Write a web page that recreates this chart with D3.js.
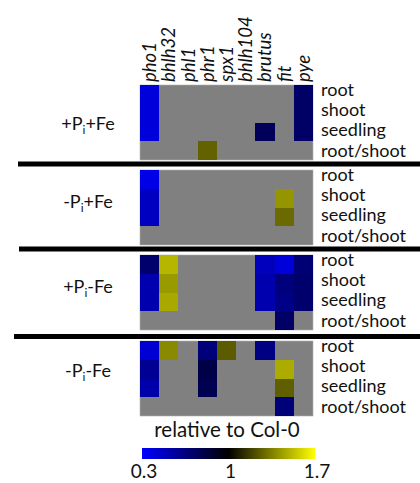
<!DOCTYPE html>
<html>
<head>
<meta charset="utf-8">
<script src="https://cdn.jsdelivr.net/npm/d3@7"></script>
<style>
  html, body { margin: 0; padding: 0; background: #fff; }
  svg { display: block; font-family: Lato, "Open Sans", sans-serif; }
</style>
</head>
<body>
<svg id="chart" width="420" height="483"></svg>
<script>
// Genes (columns) and tissues (rows)
const genes = ["pho1", "bhlh32", "phl1", "phr1", "spx1", "bhlh104", "brutus", "fit", "pye"];
const tissues = ["root", "shoot", "seedling", "root/shoot"];

// Condition labels: [sign before P, sign before Fe]
const conditions = [["+", "+"], ["-", "+"], ["+", "-"], ["-", "-"]];

// Expression relative to Col-0; null = no significant change (grey)
const n = null;
const plusPiPlusFe = [
  [0.40, n, n, n, n, n, n, n, 0.72],
  [0.40, n, n, n, n, n, n, n, 0.72],
  [0.40, n, n, n, n, n, 0.75, n, 0.72],
  [n, n, n, 1.27, n, n, n, n, n]
];
const minusPiPlusFe = [
  [0.37, n, n, n, n, n, n, n, n],
  [0.47, n, n, n, n, n, n, 1.41, n],
  [0.47, n, n, n, n, n, n, 1.29, n],
  [n, n, n, n, n, n, n, n, n]
];
const plusPiMinusFe = [
  [0.70, 1.50, n, n, n, n, 0.48, 0.40, 0.68],
  [0.52, 1.42, n, n, n, n, 0.52, 0.66, 0.70],
  [0.52, 1.46, n, n, n, n, 0.52, 0.63, 0.70],
  [n, n, n, n, n, n, n, 0.72, n]
];
const minusPiMinusFe = [
  [0.42, 1.38, n, 0.67, 1.25, n, 0.64, n, n],
  [0.60, n, n, 0.80, n, n, n, 1.47, n],
  [0.53, n, n, 0.78, n, n, n, 1.26, n],
  [n, n, n, n, n, n, n, 0.67, n]
];
const panels = [plusPiPlusFe, minusPiPlusFe, plusPiMinusFe, minusPiMinusFe];

// Colour bar domain and ticks
const colorDomain = [0.3, 1, 1.7];
const colorTicks = [0.3, 1, 1.7];

const svg = d3.select("#chart");

const mapLeft = 140, mapRight = 313;
const panelTops = [85, 170, 255, 341];
const panelH = 75;

const x = d3.scaleBand().domain(genes).range([mapLeft, mapRight]).padding(0);
const y = d3.scaleBand().domain(tissues).range([0, panelH]).padding(0);
const color = d3.scaleLinear().domain(colorDomain).range(["#0000ff", "#000000", "#ffff00"]);
const grey = "#808080";

// Gene names along the top, rotated
svg.append("g").selectAll("text")
  .data(genes)
  .join("text")
  .attr("transform", d => `translate(${x(d) + x.bandwidth() / 2 + 6.5},82) rotate(-90)`)
  .attr("font-size", 18.5)
  .attr("font-style", "italic")
  .attr("fill", "#111")
  .text(d => d);

panels.forEach((matrix, p) => {
  const g = svg.append("g").attr("transform", `translate(0,${panelTops[p]})`);
  const cells = [];
  matrix.forEach((row, r) => row.forEach((v, c) => {
    if (v != null) cells.push({ gene: genes[c], tissue: tissues[r], v });
  }));

  // Grey background = not significantly changed
  g.append("rect")
    .attr("x", mapLeft).attr("y", 0)
    .attr("width", mapRight - mapLeft).attr("height", panelH)
    .attr("fill", grey).attr("stroke", "#b0b0b0").attr("stroke-width", 0.6);

  g.selectAll("rect.cell")
    .data(cells)
    .join("rect")
    .attr("class", "cell")
    .attr("shape-rendering", "crispEdges")
    .attr("x", d => x(d.gene))
    .attr("y", d => y(d.tissue))
    .attr("width", x.bandwidth())
    .attr("height", y.bandwidth())
    .attr("fill", d => color(d.v));

  // Tissue labels on the right
  g.selectAll("text.tissue")
    .data(tissues)
    .join("text")
    .attr("class", "tissue")
    .attr("x", 321)
    .attr("y", (d, i) => 11 + i * 20.2)
    .attr("font-size", 18)
    .attr("fill", "#111")
    .text(d => d);

  // Condition label, e.g. +Pi+Fe
  const c = conditions[p];
  const labelY = [130, 208, 293, 377][p];
  const t = g.append("text")
    .attr("x", 88).attr("y", labelY - panelTops[p])
    .attr("text-anchor", "middle")
    .attr("font-size", 18)
    .attr("fill", "#111");
  t.append("tspan").text(c[0] + "P");
  t.append("tspan").attr("font-size", 12).attr("dy", 4).text("i");
  t.append("tspan").attr("dy", -4).text(c[1] + "Fe");
});

// Thick separators between conditions
const separators = [{ y: 164, x0: 18 }, { y: 249, x0: 19 }, { y: 336.5, x0: 14 }];
svg.selectAll("line.sep")
  .data(separators)
  .join("line")
  .attr("class", "sep")
  .attr("x1", d => d.x0).attr("x2", 420)
  .attr("y1", d => d.y).attr("y2", d => d.y)
  .attr("stroke", "#000").attr("stroke-width", 5);

// Colour bar
const barX = d3.scaleLinear().domain([colorDomain[0], colorDomain[2]]).range([142, 315]);
const defs = svg.append("defs");
const grad = defs.append("linearGradient").attr("id", "cbar").attr("x1", "0%").attr("x2", "100%");
colorDomain.forEach(v => {
  grad.append("stop")
    .attr("offset", ((v - colorDomain[0]) / (colorDomain[2] - colorDomain[0]) * 100) + "%")
    .attr("stop-color", color(v));
});
svg.append("rect")
  .attr("x", barX(colorDomain[0])).attr("y", 448)
  .attr("width", barX(colorDomain[2]) - barX(colorDomain[0])).attr("height", 11)
  .attr("fill", "url(#cbar)");

svg.append("text")
  .attr("x", 227).attr("y", 437)
  .attr("text-anchor", "middle")
  .attr("font-size", 20.5)
  .attr("fill", "#111")
  .text("relative to Col-0");

svg.selectAll("text.tick")
  .data(colorTicks)
  .join("text")
  .attr("class", "tick")
  .attr("x", d => barX(d) + 2)
  .attr("y", 478)
  .attr("text-anchor", "middle")
  .attr("font-size", 19)
  .attr("fill", "#111")
  .text(d => d);
</script>
</body>
</html>
